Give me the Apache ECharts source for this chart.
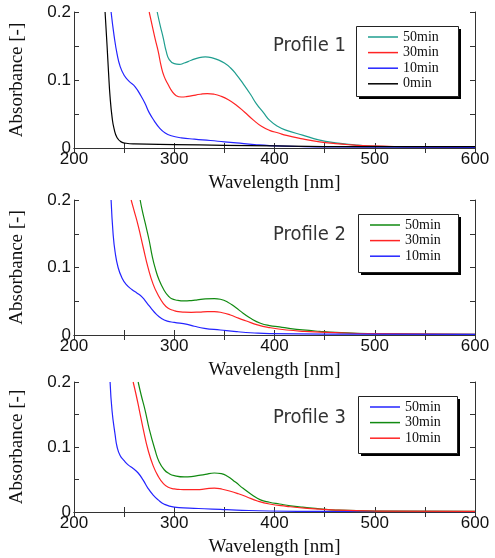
<!DOCTYPE html>
<html>
<head>
<meta charset="utf-8">
<script src="https://cdn.jsdelivr.net/npm/echarts@6/dist/echarts.min.js"></script>
<style>
  html, body { margin: 0; padding: 0; background: #fff; }
  #chart { width: 495px; height: 558px; }
</style>
</head>
<body>
<div id="chart"></div>
<script>
// [wavelength nm, absorbance]
var p1_50min = [[283,0.2],[286,0.18],[289,0.162],[292,0.142],[295,0.13],[300,0.124],[305,0.123],[310,0.125],[317,0.129],[325,0.133],[331,0.134],[337,0.133],[343,0.13],[350,0.125],[356,0.118],[362,0.108],[369,0.094],[376,0.079],[382,0.065],[389,0.052],[395,0.041],[403,0.032],[412,0.026],[428,0.019],[444,0.012],[461,0.0075],[480,0.0045],[494,0.003],[520,0.002],[560,0.0015],[600,0.001]];
var p1_30min = [[275,0.2],[278,0.18],[281,0.16],[284,0.142],[287,0.12],[290,0.105],[294,0.093],[298,0.083],[302,0.077],[307,0.075],[312,0.0755],[318,0.077],[326,0.079],[333,0.08],[340,0.079],[346,0.0765],[354,0.071],[362,0.063],[370,0.053],[379,0.041],[387,0.032],[395,0.026],[404,0.022],[412,0.0185],[428,0.0135],[445,0.009],[461,0.0064],[477,0.0045],[494,0.003],[530,0.002],[600,0.001]];
var p1_10min = [[237,0.2],[240,0.165],[243,0.138],[246,0.12],[250,0.107],[255,0.098],[261,0.09],[267,0.076],[271,0.065],[275,0.052],[280,0.04],[285,0.03],[291,0.022],[297,0.018],[307,0.015],[320,0.013],[336,0.011],[350,0.009],[362,0.0074],[380,0.005],[395,0.0035],[430,0.002],[461,0.0015],[520,0.0012],[600,0.001]];
var p1_0min = [[231,0.2],[233,0.15],[234.5,0.11],[236,0.075],[238,0.045],[240,0.028],[243,0.015],[247,0.009],[252,0.007],[260,0.006],[300,0.005],[350,0.004],[400,0.003],[500,0.002],[600,0.002]];

var p2_50min = [[266,0.2],[268,0.185],[271,0.166],[275,0.14],[278,0.117],[281,0.099],[285,0.081],[290,0.066],[294,0.058],[297,0.054],[303,0.0515],[310,0.0505],[317,0.051],[323,0.052],[331,0.0535],[340,0.054],[346,0.053],[353,0.049],[361,0.041],[369,0.032],[377,0.024],[386,0.0175],[395,0.014],[405,0.012],[416,0.0095],[428,0.0075],[445,0.0055],[461,0.004],[493,0.002],[540,0.0015],[600,0.001]];
var p2_30min = [[257,0.2],[260,0.184],[264,0.162],[269,0.13],[274,0.099],[279,0.075],[284,0.059],[289,0.047],[294,0.0395],[300,0.036],[304,0.0345],[310,0.0338],[317,0.0336],[325,0.034],[333,0.0346],[340,0.0346],[348,0.033],[356,0.0296],[364,0.025],[372,0.0207],[383,0.015],[395,0.011],[412,0.0074],[430,0.0055],[461,0.0035],[500,0.002],[600,0.001]];
var p2_10min = [[237,0.2],[239,0.15],[241,0.123],[244,0.1],[248,0.084],[252,0.075],[258,0.067],[263,0.062],[268,0.056],[273,0.047],[277,0.0395],[282,0.031],[287,0.0247],[293,0.0205],[300,0.0188],[313,0.0158],[320,0.013],[330,0.0099],[346,0.0074],[362,0.005],[380,0.003],[395,0.002],[450,0.0012],[600,0.001]];

var p3_50min = [[236,0.2],[238,0.155],[241,0.119],[243,0.1],[246,0.087],[250,0.079],[254,0.0725],[259,0.067],[264,0.06],[269,0.049],[274,0.036],[279,0.026],[284,0.0186],[290,0.012],[300,0.0075],[315,0.006],[330,0.005],[346,0.004],[362,0.003],[395,0.0015],[450,0.001],[600,0.0005]];
var p3_30min = [[264,0.2],[267,0.18],[271,0.156],[275,0.128],[281,0.0946],[285,0.077],[290,0.065],[295,0.059],[300,0.056],[310,0.054],[317,0.0545],[323,0.056],[331,0.058],[340,0.06],[347,0.059],[353,0.055],[361,0.046],[369,0.036],[377,0.027],[386,0.0186],[395,0.015],[405,0.0123],[416,0.0095],[428,0.0074],[445,0.005],[461,0.003],[500,0.0015],[600,0.001]];
var p3_10min = [[259,0.2],[262,0.18],[265,0.158],[269,0.128],[274,0.0946],[279,0.071],[284,0.055],[289,0.044],[294,0.038],[300,0.0355],[304,0.0348],[313,0.0343],[323,0.0343],[331,0.0355],[340,0.0368],[348,0.035],[356,0.0319],[364,0.028],[372,0.0235],[383,0.017],[395,0.0123],[412,0.0088],[430,0.006],[461,0.003],[500,0.0015],[600,0.001]];

var panelTitles = ['Profile 1', 'Profile 2', 'Profile 3'];
var xAxisName = 'Wavelength [nm]';
var yAxisName = 'Absorbance [-]';

var panels = [
  { series: [['50min', '#1f9e8f', p1_50min], ['30min', '#ff2424', p1_30min], ['10min', '#2424ff', p1_10min], ['0min', '#000000', p1_0min]] },
  { series: [['50min', '#118a11', p2_50min], ['30min', '#ff2424', p2_30min], ['10min', '#2424ff', p2_10min]] },
  { series: [['50min', '#2424ff', p3_50min], ['30min', '#118a11', p3_30min], ['10min', '#ff2424', p3_10min]] }
];

var gridTops = [12, 200, 382];
var gridHeights = [136, 135, 136];
// legend frame boxes [x, y, w, h]
var legendBoxes = [[356, 26, 102, 70], [358, 214, 100, 58], [358, 396, 99, 57]];
var titleTops = [36, 225, 408];

var serifFont = "'Liberation Serif', 'DejaVu Serif', serif";
var sansFont = "'Liberation Sans', Arial, sans-serif";
var axisColor = '#333';

var grids = [], xAxes = [], yAxes = [], series = [], legends = [], titles = [], graphics = [];

panels.forEach(function (panel, i) {
  grids.push({ left: 68, right: 20, top: gridTops[i], height: gridHeights[i] });

  var tickStyle = { show: true, inside: true, length: 5, lineStyle: { color: axisColor } };
  var minorStyle = { show: true, splitNumber: 2, length: 5, lineStyle: { color: axisColor } };

  xAxes.push({
    type: 'value', gridIndex: i, min: 200, max: 600, interval: 100,
    name: xAxisName, nameLocation: 'middle', nameGap: 26,
    nameTextStyle: { fontFamily: serifFont, fontSize: 19, color: '#111' },
    axisLine: { lineStyle: { color: axisColor, width: 1 } },
    axisTick: tickStyle, minorTick: minorStyle,
    axisLabel: { fontFamily: sansFont, fontSize: 17, color: '#111', margin: 3 },
    splitLine: { show: false }
  });
  xAxes.push({
    type: 'value', gridIndex: i, min: 200, max: 600, interval: 100, position: 'top',
    axisLine: { lineStyle: { color: axisColor, width: 1 } },
    axisTick: tickStyle, minorTick: minorStyle,
    axisLabel: { show: false }, splitLine: { show: false }
  });
  yAxes.push({
    type: 'value', gridIndex: i, min: 0, max: 0.2, interval: 0.1,
    name: yAxisName, nameLocation: 'middle', nameGap: 47,
    nameTextStyle: { fontFamily: serifFont, fontSize: 19, color: '#111' },
    axisLine: { show: true, lineStyle: { color: axisColor, width: 1 } },
    axisTick: tickStyle, minorTick: minorStyle,
    axisLabel: { fontFamily: sansFont, fontSize: 17, color: '#111', margin: 3 },
    splitLine: { show: false }
  });
  yAxes.push({
    type: 'value', gridIndex: i, min: 0, max: 0.2, interval: 0.1, position: 'right',
    axisLine: { show: true, lineStyle: { color: axisColor, width: 1 } },
    axisTick: tickStyle, minorTick: minorStyle,
    axisLabel: { show: false }, splitLine: { show: false }
  });

  var names = [];
  panel.series.forEach(function (s) {
    var name = 'P' + (i + 1) + ' ' + s[0];
    names.push(name);
    series.push({
      type: 'line', name: name, data: s[2],
      xAxisIndex: i * 2, yAxisIndex: i * 2,
      showSymbol: false, smooth: 0.5, clip: true,
      color: s[1], lineStyle: { color: s[1], width: 1.2 }
    });
  });

  var box = legendBoxes[i];
  // drop shadow, then white framed box
  graphics.push({
    type: 'rect', z: 3, silent: true,
    shape: { x: box[0] + 3, y: box[1] + 3, width: box[2], height: box[3] },
    style: { fill: '#000' }
  });
  graphics.push({
    type: 'rect', z: 3, silent: true,
    shape: { x: box[0] + 0.5, y: box[1] + 0.5, width: box[2], height: box[3] },
    style: { fill: '#fff', stroke: '#222', lineWidth: 1 }
  });

  legends.push({
    data: names, orient: 'vertical', left: box[0] + 12, top: box[1] + 4,
    selectedMode: false, z: 5,
    icon: 'rect', itemWidth: 30, itemHeight: 1.5, itemGap: 1.6,
    padding: 0,
    formatter: function (n) { return n.split(' ')[1]; },
    textStyle: { fontFamily: serifFont, fontSize: 14, color: '#111', lineHeight: 14 }
  });

  titles.push({
    text: panelTitles[i], left: 273, top: titleTops[i], padding: 0,
    textStyle: { fontFamily: "'DejaVu Sans Condensed', Roboto, sans-serif", fontWeight: 'normal', fontSize: 20, color: '#333' }
  });
});

var chart = echarts.init(document.getElementById('chart'), null, { renderer: 'canvas' });
chart.setOption({
  animation: false,
  backgroundColor: '#fff',
  title: titles,
  legend: legends,
  grid: grids,
  xAxis: xAxes,
  yAxis: yAxes,
  graphic: graphics,
  series: series
});
</script>
</body>
</html>
